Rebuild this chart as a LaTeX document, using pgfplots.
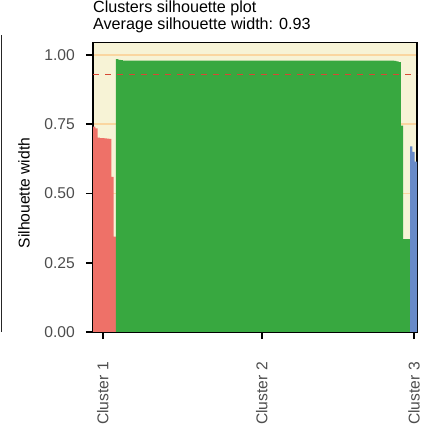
\documentclass[border=0pt]{standalone}
\usepackage{pgfplots}
\pgfplotsset{compat=1.18}
\usepackage{fontspec}
\setmainfont{Liberation Sans}

\definecolor{clA}{RGB}{238,113,104}
\definecolor{clB}{RGB}{56,168,64}
\definecolor{clC}{RGB}{104,138,200}
\definecolor{panelbg}{RGB}{247,243,214}
\definecolor{gridc}{RGB}{250,214,160}
\definecolor{avgline}{RGB}{214,72,52}
\definecolor{ticktext}{RGB}{77,77,77}

% grid below the bars, frame and ticks above them
\pgfplotsset{
  layers/gglike/.define layer set={axis background,axis grid,main,axis ticks,axis lines,axis tick labels,axis descriptions,axis foreground}{},
}

\begin{document}
\begin{tikzpicture}
\begin{axis}[
  set layers=gglike,
  at={(0,0)}, anchor=south west,
  scale only axis,
  width=324bp, height=289.5bp,
  xmin=0, xmax=141,
  ymin=0, ymax=1.045,
  axis background/.style={fill=panelbg},
  axis line style={line width=1.7bp, black},
  ytick={0,0.25,0.5,0.75,1},
  yticklabels={0.00,0.25,0.50,0.75,1.00},
  xtick={4.3,73.5,139.7},
  xticklabels={Cluster 1,Cluster 2,Cluster 3},
  ymajorgrids,
  major grid style={line width=1.8bp, gridc},
  tick align=outside,
  major tick length=7bp,
  every tick/.style={line width=1.8bp, black},
  xtick pos=bottom, ytick pos=left,
  /pgf/number format/assume math mode=true,
  tick label style={font=\fontsize{15.7}{18}\selectfont, text=ticktext},
  yticklabel style={anchor=east, inner sep=0pt, xshift=-11bp},
  xticklabel style={yshift=-23bp, rotate=90, anchor=east, inner sep=0pt},
  every axis y label/.style={at={(axis description cs:0,0.48)}, xshift=-69bp, rotate=90, anchor=center},
  ylabel={Silhouette width},
  ylabel style={font=\fontsize{15.7}{18}\selectfont},
  title={Clusters silhouette plot\\Average silhouette width: 0.93},
  title style={at={(axis description cs:0,1)}, anchor=south west, align=left,
    inner sep=0pt, yshift=3.5bp, font=\fontsize{16.2}{16.7}\selectfont},
]
% cluster 1
\addplot[const plot, draw=none, fill=clA] coordinates {
  (0,0.741) (1,0.735) (2,0.702) (3,0.700) (4,0.700) (5,0.699)
  (6,0.698) (7,0.697) (8,0.560) (9,0.344) (10,0.344)
} \closedcycle;
% cluster 2
\addplot[const plot, draw=none, fill=clB] coordinates {
  (10,0.985) (11,0.982) (12,0.981) (13,0.980) (131,0.979)
  (132,0.977) (133,0.974) (134,0.745) (135,0.335) (138,0.335)
} \closedcycle;
% cluster 3
\addplot[const plot, draw=none, fill=clC] coordinates {
  (138,0.670) (139,0.650) (140,0.615) (141,0.615)
} \closedcycle;
% average silhouette width
\addplot[avgline, line width=1.2bp, dash pattern=on 6bp off 6bp] coordinates {(0,0.93) (141,0.93)};
\end{axis}
% frame edge of the neighbouring panel
\draw[line width=1.8bp, black!85] (-91.5bp,0bp) -- (-91.5bp,297bp);
\pgfresetboundingbox
\useasboundingbox (-93bp,-95bp) rectangle (332bp,332bp);
\end{tikzpicture}
\end{document}
